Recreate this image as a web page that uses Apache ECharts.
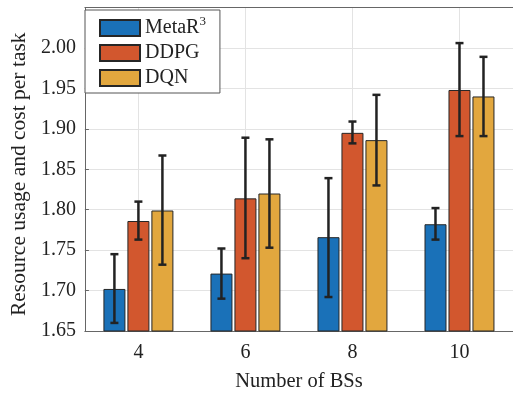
<!DOCTYPE html>
<html>
<head>
<meta charset="utf-8">
<script src="https://cdn.jsdelivr.net/npm/echarts@6/dist/echarts.min.js"></script>
<style>
  html, body { margin: 0; padding: 0; background: #fff; }
  #chart { width: 513px; height: 397px; }
</style>
</head>
<body>
<div id="chart"></div>
<script>
let categories = ['4', '6', '8', '10'];
let seriesNames = ['MetaR3', 'DDPG', 'DQN'];
let metaR = [1.702, 1.721, 1.766, 1.782];
let ddpg = [1.786, 1.814, 1.895, 1.948];
let dqn = [1.799, 1.820, 1.886, 1.940];
let metaRLow = [1.660, 1.690, 1.692, 1.763];
let metaRHigh = [1.745, 1.752, 1.839, 1.802];
let ddpgLow = [1.763, 1.740, 1.882, 1.891];
let ddpgHigh = [1.810, 1.889, 1.909, 2.006];
let dqnLow = [1.732, 1.753, 1.830, 1.891];
let dqnHigh = [1.867, 1.887, 1.942, 1.989];

let colors = ['#1a71b8', '#d2572e', '#e2a73e'];
let font = "'Liberation Serif', 'Times New Roman', serif";
let barW = 22;
let barStep = 24;

let chart = echarts.init(document.getElementById('chart'));

function errorSeries(low, high, idx) {
  let data = low.map((v, i) => [i, v, high[i]]);
  return {
    type: 'custom',
    name: seriesNames[idx] + '-err',
    z: 10,
    silent: true,
    renderItem: function (params, api) {
      let i = api.value(0);
      let lo = api.coord([i, api.value(1)]);
      let hi = api.coord([i, api.value(2)]);
      let x = lo[0] + (idx - 1) * barStep;
      let cap = 4;
      let style = { stroke: '#222', lineWidth: 2.5 };
      return {
        type: 'group',
        children: [
          { type: 'line', shape: { x1: x, y1: lo[1], x2: x, y2: hi[1] }, style: style },
          { type: 'line', shape: { x1: x - cap, y1: lo[1], x2: x + cap, y2: lo[1] }, style: style },
          { type: 'line', shape: { x1: x - cap, y1: hi[1], x2: x + cap, y2: hi[1] }, style: style }
        ]
      };
    },
    data: data
  };
}

function barSeries(values, idx) {
  return {
    name: seriesNames[idx],
    type: 'bar',
    barWidth: barW,
    barGap: '9%',
    itemStyle: {
      color: colors[idx],
      borderColor: '#262626',
      borderWidth: 1
    },
    data: values
  };
}

let option = {
  backgroundColor: '#fff',
  animation: false,
  textStyle: { fontFamily: font },
  grid: {
    left: 83,
    top: 7.5,
    width: 432,
    height: 330
  },
  legend: {
    left: 85,
    top: 10,
    orient: 'vertical',
    data: seriesNames,
    backgroundColor: '#fff',
    borderColor: '#555',
    borderWidth: 1,
    borderRadius: 0,
    padding: [5, 14, 5, 14],
    itemWidth: 40,
    itemHeight: 16,
    itemGap: 5,
    icon: 'rect',
    textStyle: {
      fontFamily: font,
      fontSize: 20,
      color: '#222',
      lineHeight: 18,
      rich: {
        sup: { fontSize: 13, verticalAlign: 'bottom', padding: [0, 0, 9, 0], fontFamily: font, color: '#222', lineHeight: 13 }
      }
    },
    formatter: function (name) {
      return name === 'MetaR3' ? 'MetaR{sup|3}' : name;
    }
  },
  xAxis: [
    {
      type: 'category',
      data: categories,
      name: 'Number of BSs',
      nameLocation: 'middle',
      nameGap: 40,
      nameTextStyle: { fontFamily: font, fontSize: 20.5, color: '#222' },
      axisLine: { lineStyle: { color: '#666', width: 1 } },
      axisTick: { inside: true, alignWithLabel: true, length: 4, lineStyle: { color: '#666' } },
      axisLabel: { fontFamily: font, fontSize: 20, color: '#222', margin: 12 },
      splitLine: { show: true, alignWithLabel: true, lineStyle: { color: '#e3e3e3' } }
    },
    {
      type: 'category',
      data: categories,
      position: 'top',
      axisLine: { lineStyle: { color: '#666', width: 1 } },
      axisTick: { inside: true, alignWithLabel: true, length: 4, lineStyle: { color: '#666' } },
      axisLabel: { show: false }
    }
  ],
  yAxis: {
    type: 'value',
    min: 1.65,
    max: 2.05,
    interval: 0.05,
    name: 'Resource usage and cost per task',
    nameLocation: 'middle',
    nameGap: 52,
    nameTextStyle: { fontFamily: font, fontSize: 21.5, color: '#222', padding: [0, 10, 0, 0] },
    axisLine: { show: true, lineStyle: { color: '#666', width: 1 } },
    axisTick: { show: true, inside: true, length: 4, lineStyle: { color: '#666' } },
    axisLabel: {
      fontFamily: font,
      fontSize: 20,
      color: '#222',
      margin: 9,
      showMaxLabel: false,
      formatter: function (v) { return v.toFixed(2); }
    },
    splitLine: { lineStyle: { color: '#e3e3e3' } }
  },
  series: [
    barSeries(metaR, 0),
    barSeries(ddpg, 1),
    barSeries(dqn, 2),
    errorSeries(metaRLow, metaRHigh, 0),
    errorSeries(ddpgLow, ddpgHigh, 1),
    errorSeries(dqnLow, dqnHigh, 2)
  ]
};

chart.setOption(option);
</script>
</body>
</html>
